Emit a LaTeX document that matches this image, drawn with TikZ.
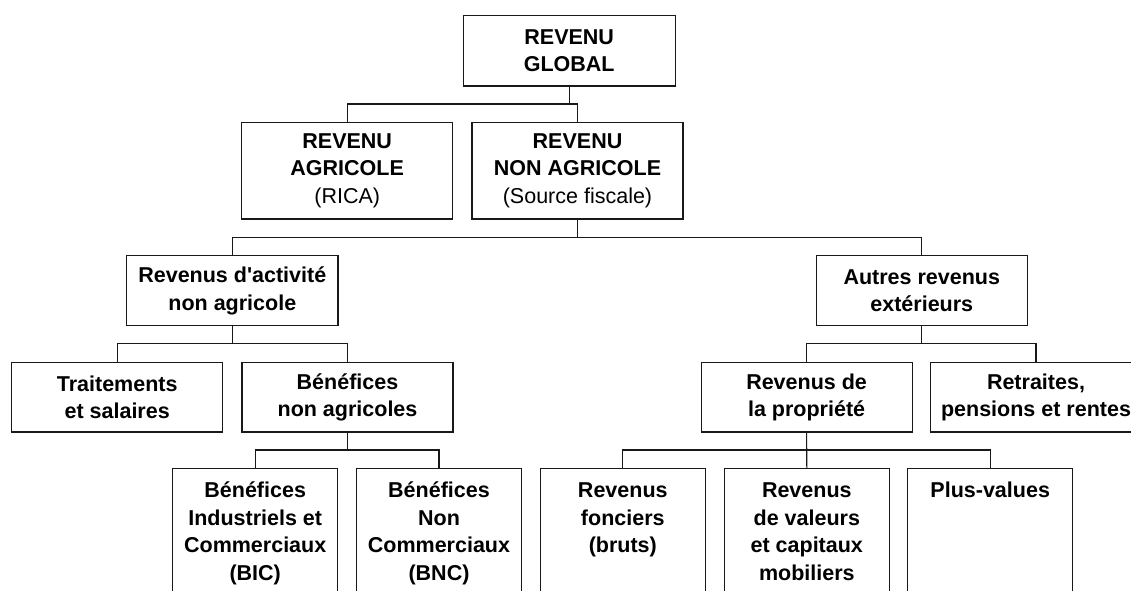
\documentclass[tikz,border=0pt]{standalone}
\usepackage{fontspec}
\setmainfont{Liberation Sans}[Ligatures=TeXOff]
\tikzset{
  conn/.style={line width=1.1pt, draw=black!90},
  box/.style={draw=black!90, line width=1.1pt, inner sep=0pt, align=center,
    font=\bfseries\fontsize{21.5}{27.5}\selectfont},
  lvlzero/.style={box, minimum width=211.7pt, minimum height=70.3pt},
  lvlone/.style={box, minimum width=211pt, minimum height=96.7pt},
  lvltwo/.style={box, minimum width=211.3pt, minimum height=70pt},
  lvlthree/.style={box, minimum width=211pt, minimum height=69.3pt},
  leaf/.style={box, anchor=north, minimum width=165pt}
}
\newcommand{\leaftext}[1]{\parbox[t][140pt][t]{160pt}{\centering\rule{0pt}{28.7pt}#1}}
\begin{document}
\begin{tikzpicture}[x=1pt,y=-1pt]
\useasboundingbox (0,0) rectangle (1131,590);
\fill[white] (0,0) rectangle (1131,590);
\clip (0,0) rectangle (1131,590);

% level 0
\node[lvlzero] (g) at (569.2,50.85) {REVENU\\GLOBAL};
% level 1
\node[lvlone] (agr) at (347.2,170.6) {REVENU\\AGRICOLE\\{\mdseries (RICA)}};
\node[lvlone] (nagr) at (577.5,170.6) {REVENU\\NON AGRICOLE\\{\mdseries (Source fiscale)}};
% level 2
\node[lvltwo] (act) at (232.3,290.7) {Revenus d'activité\\non agricole};
\node[lvltwo] (aut) at (921.8,290.7) {Autres revenus\\extérieurs};
% level 3
\node[lvlthree] (trait) at (117.2,397.3) {Traitements\\et salaires};
\node[lvlthree] (benna) at (347.5,397.3) {Bénéfices\\non agricoles};
\node[lvlthree] (prop) at (806.6,397.3) {Revenus de\\la propriété};
\node[lvlthree] (retr) at (1036,397.3) {Retraites,\\pensions et rentes};
% level 4
\node[leaf] (bic) at (255.2,468.3) {\leaftext{Bénéfices\\Industriels et\\Commerciaux\\(BIC)}};
\node[leaf] (bnc) at (439,468.3) {\leaftext{Bénéfices\\Non\\Commerciaux\\(BNC)}};
\node[leaf] (fonc) at (622.8,468.3) {\leaftext{Revenus\\fonciers\\(bruts)}};
\node[leaf] (val) at (806.8,468.3) {\leaftext{Revenus\\de valeurs\\et capitaux\\mobiliers}};
\node[leaf] (plus) at (990.2,468.3) {\leaftext{Plus-values}};

% junctions
\coordinate (j0) at (569.2,104);
\coordinate (j1) at (577.5,237.5);
\coordinate (j2) at (232.3,343.3);
\coordinate (j3) at (921.8,343.3);
\coordinate (j4) at (347.5,450);
\coordinate (j5) at (806.6,450);

% connectors
\draw[conn] (g.south) -- (j0);
\draw[conn] (agr.north) |- (j0) -| (nagr.north);
\draw[conn] (nagr.south) -- (j1);
\draw[conn] (act.north) |- (j1) -| (aut.north);
\draw[conn] (act.south) -- (j2);
\draw[conn] (trait.north) |- (j2) -| (benna.north);
\draw[conn] (aut.south) -- (j3);
\draw[conn] (prop.north) |- (j3) -| (retr.north);
\draw[conn] (benna.south) -- (j4);
\draw[conn] (bic.north) |- (j4) -| (bnc.north);
\draw[conn] (prop.south) -- (val.north);
\draw[conn] (fonc.north) |- (j5) -| (plus.north);
\end{tikzpicture}
\end{document}
